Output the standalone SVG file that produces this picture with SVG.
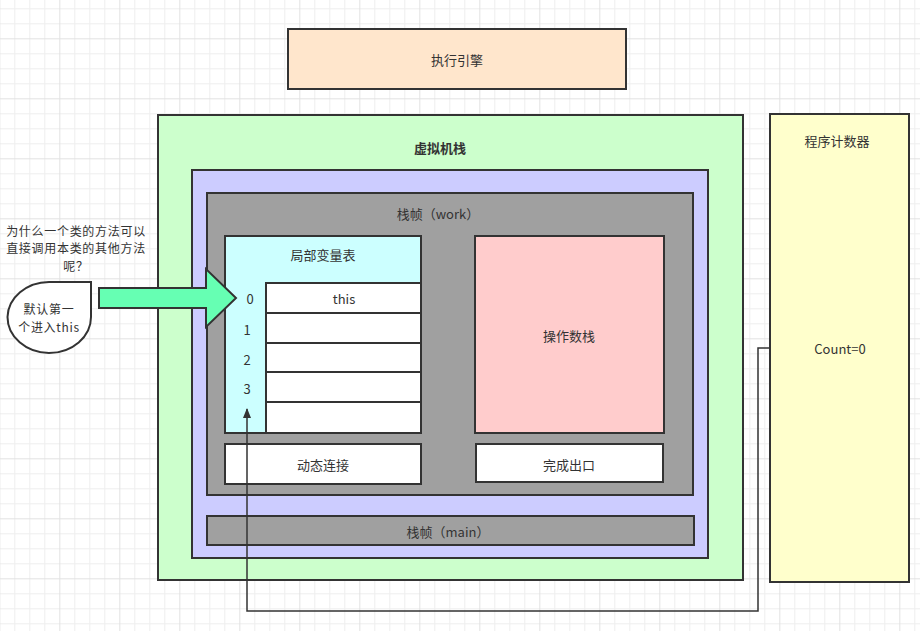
<svg xmlns="http://www.w3.org/2000/svg" width="920" height="631" viewBox="0 0 920 631">
<defs>
<pattern id="grid" x="-0.7" y="-21.7" width="60" height="60" patternUnits="userSpaceOnUse">
<path d="M15.5 0V60M30.5 0V60M45.5 0V60M0 15.5H60M0 30.5H60M0 45.5H60" stroke="#eeeeee" stroke-width="1" fill="none"/>
<path d="M0.5 0V60M0 0.5H60" stroke="#e2e2e2" stroke-width="1" fill="none"/>
</pattern>
<marker id="arr" markerWidth="10" markerHeight="10" refX="9" refY="5" orient="auto" markerUnits="userSpaceOnUse">
<path d="M0,1 L10,5 L0,9 Z" fill="#333"/>
</marker>
<style>
.b{stroke:#333;stroke-width:2}
.t{font-family:"Noto Sans CJK SC","Liberation Sans",sans-serif;font-size:13px;fill:#333;text-anchor:middle;dominant-baseline:central}
.m{font-size:12px;letter-spacing:0.7px}
.c{fill:none;stroke:#333;stroke-width:1.5}
</style>
</defs>
<rect width="920" height="631" fill="#ffffff"/>
<rect width="920" height="631" fill="url(#grid)"/>

<g id="engine">
<rect class="b" x="288" y="29" width="338" height="60" fill="#ffe6cc"/>
<text class="t" x="457" y="59">执行引擎</text>
</g>

<g id="jvmstack">
<rect class="b" x="158" y="115" width="585" height="465" fill="#ccffcc"/>
<text class="t" x="440" y="147" font-weight="bold">虚拟机栈</text>
</g>

<g id="frames">
<rect class="b" x="192" y="170" width="516" height="388" fill="#ccccff"/>
</g>

<g id="frame-work">
<rect class="b" x="207" y="193" width="486" height="302" fill="#a0a0a0"/>
<text class="t" x="438" y="213">栈帧（work）</text>
</g>

<g id="localvars">
<rect class="b" x="225" y="236" width="196" height="197" fill="#ccffff"/>
<text class="t" x="323" y="254">局部变量表</text>
<rect class="b" x="266" y="283" width="155" height="30" fill="#ffffff"/>
<rect class="b" x="266" y="313" width="155" height="30" fill="#ffffff"/>
<rect class="b" x="266" y="343" width="155" height="29" fill="#ffffff"/>
<rect class="b" x="266" y="372" width="155" height="30" fill="#ffffff"/>
<rect class="b" x="266" y="402" width="155" height="31" fill="#ffffff"/>
<text class="t" x="344" y="298">this</text>
<text class="t" x="250" y="298">0</text>
<text class="t" x="247" y="329">1</text>
<text class="t" x="247" y="359">2</text>
<text class="t" x="247" y="388">3</text>
</g>

<g id="operand">
<rect class="b" x="475" y="236" width="189" height="197" fill="#ffcccc"/>
<text class="t" x="569" y="335">操作数栈</text>
</g>

<g id="dynlink">
<rect class="b" x="225" y="444" width="196" height="40" fill="#ffffff"/>
<text class="t" x="323" y="464">动态连接</text>
</g>

<g id="exit">
<rect class="b" x="476" y="444" width="187" height="38" fill="#ffffff"/>
<text class="t" x="569" y="464">完成出口</text>
</g>

<g id="frame-main">
<rect class="b" x="207" y="516" width="487" height="29" fill="#a0a0a0"/>
<text class="t" x="448" y="531">栈帧（main）</text>
</g>

<g id="pc">
<rect class="b" x="770" y="114" width="139" height="468" fill="#ffffcc"/>
<text class="t" x="837" y="140">程序计数器</text>
<text class="t" x="840" y="348">Count=0</text>
</g>

<g id="question">
<text class="t m" x="76" y="230">为什么一个类的方法可以</text>
<text class="t m" x="76" y="247.6">直接调用本类的其他方法</text>
<text class="t m" x="76" y="265.2">呢？</text>
</g>

<g id="bubble">
<path class="b" d="M49,282 L91,282 L91,317 A42,36 0 0 1 49,353 A42,36 0 0 1 7.5,317 A42,36 0 0 1 49,282 Z" fill="#ffffff"/>
<text class="t m" x="49" y="308.5">默认第一</text>
<text class="t m" x="49" y="326.1">个进入this</text>
</g>

<g id="bigarrow">
<path class="b" d="M99,288 L206,288 L206,269 L236,298 L206,327 L206,308 L99,308 Z" fill="#66ffb3" stroke-linejoin="miter"/>
</g>

<g id="connectors">
<path class="c" d="M770,348 L758,348 L758,611 L247,611 L247,409" marker-end="url(#arr)"/>
</g>
</svg>
